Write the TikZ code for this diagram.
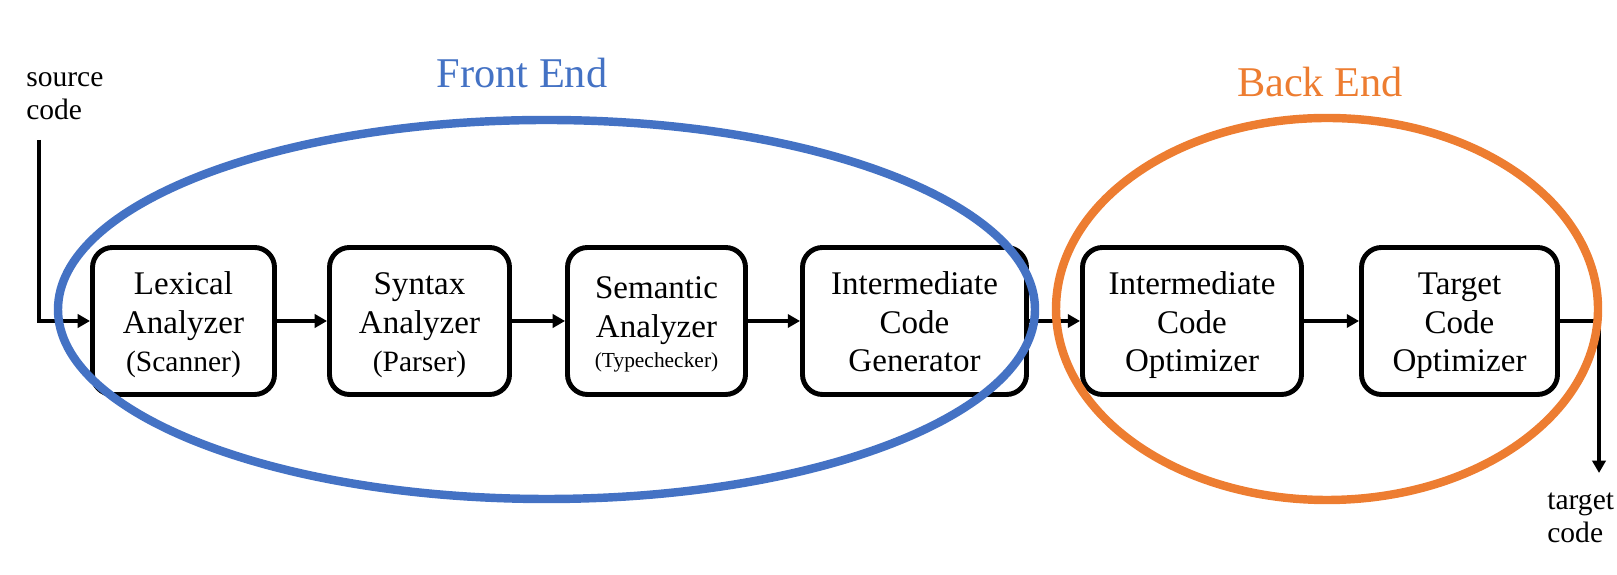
\documentclass[tikz,border=0pt]{standalone}
\usepackage{fontspec}
\setmainfont{Liberation Serif}
\usepackage{xcolor}
\usetikzlibrary{arrows.meta}
\definecolor{feblue}{HTML}{4472C4}
\definecolor{beorange}{HTML}{ED7D31}

\begin{document}
\begin{tikzpicture}[>={Triangle[length=7pt,width=7.5pt]},
  stage/.style={draw,line width=2.8pt,rounded corners=0.4cm,fill=white,minimum height=2.94cm,
    inner sep=0pt,align=center,font=\fontsize{18.8}{21.9}\selectfont,text height=60pt,text depth=2pt},
  flow/.style={->,line width=2.2pt},
  ring/.style={line width=4.8pt},
  io/.style={align=left,anchor=base west,inner sep=0pt,font=\fontsize{16.8}{19.3}\selectfont},
  title/.style={anchor=base,inner sep=0pt,font=\fontsize{24.1}{28}\selectfont}]
\useasboundingbox (0,0) rectangle (32.34,11.5);
% the six phases
\node[stage,minimum width=3.64cm] (lex) at (3.67,5.08) {Lexical\\Analyzer\\{\fontsize{16.8}{19}\selectfont (Scanner)}};
\node[stage,minimum width=3.60cm] (syn) at (8.39,5.08) {Syntax\\Analyzer\\{\fontsize{16.8}{19}\selectfont (Parser)}};
\node[stage,minimum width=3.56cm,text depth=6.8pt] (sem) at (13.13,5.08) {Semantic\\Analyzer\\[-4.5pt]{\fontsize{12.2}{14}\selectfont (Typechecker)}};
\node[stage,minimum width=4.48cm] (icg) at (18.29,5.08) {Intermediate\\Code\\Generator};
\node[stage,minimum width=4.38cm] (ico) at (23.84,5.08) {Intermediate\\Code\\Optimizer};
\node[stage,minimum width=3.92cm] (tco) at (29.19,5.08) {Target\\Code\\Optimizer};
% input and output
\node[io] (src) at (0.52,9.10) {source\\code};
\coordinate (srcin) at (0.78,8.70);
\draw[flow] (srcin) |- (lex.west);
\foreach \a/\b in {lex/syn,syn/sem,sem/icg,icg/ico,ico/tco}\draw[flow] (\a) -- (\b);
\coordinate (tgtout) at (31.98,2.04);
\draw[flow] (tco.east) -| (tgtout);
\node[io] (tgt) at (30.94,0.64) {target\\code};
% front end / back end
\draw[ring,feblue] (10.93,5.31) ellipse [x radius=9.77cm,y radius=3.79cm];
\draw[ring,beorange] (26.54,5.32) ellipse [x radius=5.42cm,y radius=3.82cm];
\node[title,text=feblue] (fe) at (10.44,9.74) {Front End};
\node[title,text=beorange] (be) at (26.40,9.56) {Back End};
\end{tikzpicture}
\end{document}
